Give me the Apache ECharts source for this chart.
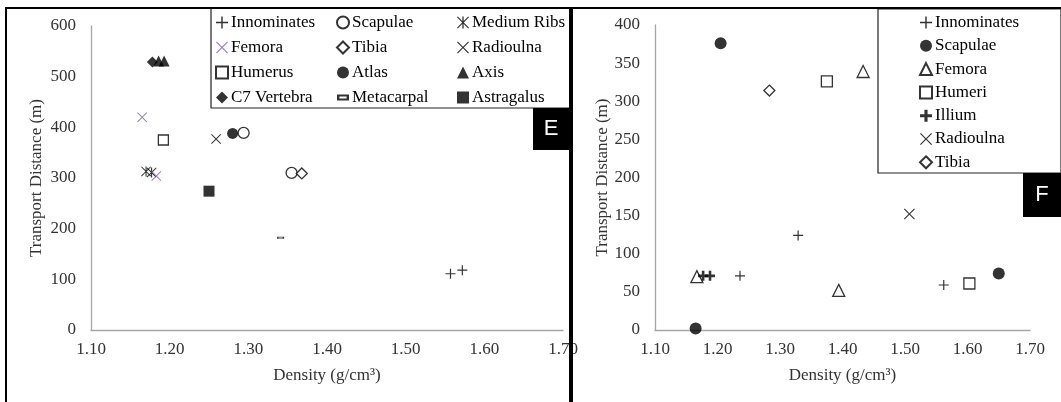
<!DOCTYPE html>
<html>
<head>
<meta charset="utf-8">
<script src="https://cdn.jsdelivr.net/npm/echarts@6/dist/echarts.min.js"></script>
<style>
html,body{margin:0;padding:0;background:#fff;}
#chart{width:1061px;height:402px;}
</style>
</head>
<body>
<div id="chart"></div>
<script>
// ---------- Panel E data: [density g/cm3, transport distance m] ----------
const E_innominates = [[1.557,111],[1.572,118]];
const E_scapulae    = [[1.294,389],[1.355,310]];
const E_mediumRibs  = [[1.170,313],[1.177,311]];
const E_femora      = [[1.165,420],[1.183,304]];
const E_tibia       = [[1.368,309]];
const E_radioulna   = [[1.259,377]];
const E_humerus     = [[1.192,375]];
const E_atlas       = [[1.280,388]];
const E_axis        = [[1.186,531],[1.193,531]];
const E_c7          = [[1.178,529]];
const E_metacarpal  = [[1.341,182]];
const E_astragalus  = [[1.250,274]];

// ---------- Panel F data ----------
const F_innominates = [[1.329,124],[1.236,71],[1.562,59]];
const F_scapulae    = [[1.205,376],[1.165,2],[1.650,74]];
const F_femora      = [[1.433,339],[1.167,70],[1.394,52]];
const F_humeri      = [[1.375,326],[1.603,61]];
const F_illium      = [[1.177,71],[1.188,71]];
const F_radioulna   = [[1.507,152]];
const F_tibia       = [[1.283,314]];

// ---------- Axis ticks ----------
const xTicks  = [1.10,1.20,1.30,1.40,1.50,1.60,1.70];
const yTicksE = [0,100,200,300,400,500,600];
const yTicksF = [0,50,100,150,200,250,300,350,400];

// legend layout (names, in columns)
const legendE_col1 = ['Innominates','Femora','Humerus','C7 Vertebra'];
const legendE_col2 = ['Scapulae','Tibia','Atlas','Metacarpal'];
const legendE_col3 = ['Medium Ribs','Radioulna','Axis','Astragalus'];
const legendF = ['Innominates','Scapulae','Femora','Humeri','Illium','Radioulna','Tibia'];

const PLUS  = 'path://M4.4,0 H5.6 V4.4 H10 V5.6 H5.6 V10 H4.4 V5.6 H0 V4.4 H4.4 Z';
const BPLUS = 'path://M3.7,0 H6.3 V3.7 H10 V6.3 H6.3 V10 H3.7 V6.3 H0 V3.7 H3.7 Z';
const XMARK = 'path://M0,0.7 L0.7,0 L5,4.3 L9.3,0 L10,0.7 L5.7,5 L10,9.3 L9.3,10 L5,5.7 L0.7,10 L0,9.3 L4.3,5 Z';
const STAR  = 'path://M0,0.7 L0.7,0 L5,4.3 L9.3,0 L10,0.7 L5.7,5 L10,9.3 L9.3,10 L5,5.7 L0.7,10 L0,9.3 L4.3,5 Z M4.45,0 L5.55,0 L5.55,10 L4.45,10 Z';
const DASH  = 'path://M0,0 H8 V4 H0 Z M1.6,1.3 V2.7 H6.4 V1.3 Z';

const serif = 'Liberation Serif';
const BLACK = '#000';
const PURPLE = '#8064A2';
const open = {color:'#fff', borderColor:'#000', borderWidth:1.3};
const solid = {color:BLACK};

function S(prefix, name, data, symbol, size, style, gi){
  return {
    type:'scatter', name: prefix + ':' + name, data: data,
    xAxisIndex: gi, yAxisIndex: gi,
    symbol: symbol, symbolSize: size, symbolKeepAspect: true,
    itemStyle: style, emphasis:{disabled:true}, z: 3
  };
}

const series = [
  S('E','Innominates', E_innominates, PLUS, 10, solid, 0),
  S('E','Scapulae',    E_scapulae, 'circle', 11, open, 0),
  S('E','Medium Ribs', E_mediumRibs, STAR, 10, solid, 0),
  S('E','Femora',      E_femora, XMARK, 10, {color:PURPLE}, 0),
  S('E','Tibia',       E_tibia, 'diamond', 11, open, 0),
  S('E','Radioulna',   E_radioulna, XMARK, 10, solid, 0),
  S('E','Humerus',     E_humerus, 'rect', 10, open, 0),
  S('E','Atlas',       E_atlas, 'circle', 11, solid, 0),
  S('E','Axis',        E_axis, 'triangle', 11, solid, 0),
  S('E','C7 Vertebra', E_c7, 'diamond', 11, solid, 0),
  S('E','Metacarpal',  E_metacarpal, DASH, [7,4], solid, 0),
  S('E','Astragalus',  E_astragalus, 'rect', 11, solid, 0),

  S('F','Innominates', F_innominates, PLUS, 10, solid, 1),
  S('F','Scapulae',    F_scapulae, 'circle', 12, solid, 1),
  S('F','Femora',      F_femora, 'triangle', 12, open, 1),
  S('F','Humeri',      F_humeri, 'rect', 11, open, 1),
  S('F','Illium',      F_illium, BPLUS, 10, solid, 1),
  S('F','Radioulna',   F_radioulna, XMARK, 11, solid, 1),
  S('F','Tibia',       F_tibia, 'diamond', 11, open, 1)
];

const axisLabelStyle = {color:'#333', fontFamily:serif, fontSize:17};
const axisLineStyle = {show:true, lineStyle:{color:'#a6a6a6', width:1.3}};

function xAx(gi){
  return {
    type:'value', gridIndex: gi,
    min: xTicks[0], max: xTicks[xTicks.length-1], interval: 0.1,
    axisLine: axisLineStyle, axisTick:{show:false}, splitLine:{show:false},
    axisLabel: Object.assign({margin:11, formatter: v => v.toFixed(2)}, axisLabelStyle),
    name: 'Density (g/cm³)', nameLocation:'middle', nameGap: 37,
    nameTextStyle: {color:'#333', fontFamily:serif, fontSize:17}
  };
}
function yAx(gi, ticks, gap){
  return {
    type:'value', gridIndex: gi,
    min: ticks[0], max: ticks[ticks.length-1], interval: ticks[1]-ticks[0],
    axisLine: axisLineStyle, axisTick:{show:false}, splitLine:{show:false},
    axisLabel: Object.assign({margin:15}, axisLabelStyle),
    name: 'Transport Distance (m)', nameLocation:'middle', nameRotate: 90, nameGap: gap,
    nameTextStyle: {color:'#333', fontFamily:serif, fontSize:17}
  };
}

const fmt = n => n.split(':')[1];
function leg(prefix, names, left, top, gap){
  return {
    data: names.map(n => prefix + ':' + n),
    orient:'vertical', left:left, top:top, padding:0,
    itemWidth:12, itemHeight:12, itemGap:gap, selectedMode:false,
    formatter: fmt,
    textStyle:{color:'#000', fontFamily:serif, fontSize:17, lineHeight:17, padding:[0,0,0,-2]}
  };
}

const chart = echarts.init(document.getElementById('chart'), null, {renderer:'canvas'});
chart.setOption({
  animation:false,
  backgroundColor:'#fff',
  grid:[
    {left:91, top:26, right:498, bottom:72},
    {left:655, top:25, right:31, bottom:72}
  ],
  xAxis:[xAx(0), xAx(1)],
  yAxis:[yAx(0, yTicksE, 46), yAx(1, yTicksF, 44)],
  legend:[
    leg('E', legendE_col1, 215, 14, 8),
    leg('E', legendE_col2, 336, 14, 8),
    leg('E', legendE_col3, 457, 14, 8),
    leg('F', legendF, 919, 14, 6.3)
  ],
  graphic:[
    {type:'rect', shape:{x:6, y:8, width:564, height:420}, style:{fill:null, stroke:'#000', lineWidth:2}, z:10},
    {type:'rect', shape:{x:572, y:8, width:492, height:420}, style:{fill:null, stroke:'#000', lineWidth:2}, z:10},
    {type:'rect', shape:{x:211, y:8, width:359, height:100}, style:{fill:'#fff', stroke:'#222', lineWidth:1.2}, z:-1},
    {type:'rect', shape:{x:878, y:9, width:183, height:164}, style:{fill:'#fff', stroke:'#222', lineWidth:1.2}, z:-1},
    {type:'rect', shape:{x:533, y:108, width:37, height:42}, style:{fill:'#000'}, z:5},
    {type:'text', x:551, y:129, style:{text:'E', fill:'#fff', font:'22px "Liberation Sans"', align:'center', verticalAlign:'middle'}, z:6},
    {type:'rect', shape:{x:1023, y:173, width:38, height:44}, style:{fill:'#000'}, z:5},
    {type:'text', x:1042, y:195, style:{text:'F', fill:'#fff', font:'22px "Liberation Sans"', align:'center', verticalAlign:'middle'}, z:6}
  ],
  series: series
});
</script>
</body>
</html>
